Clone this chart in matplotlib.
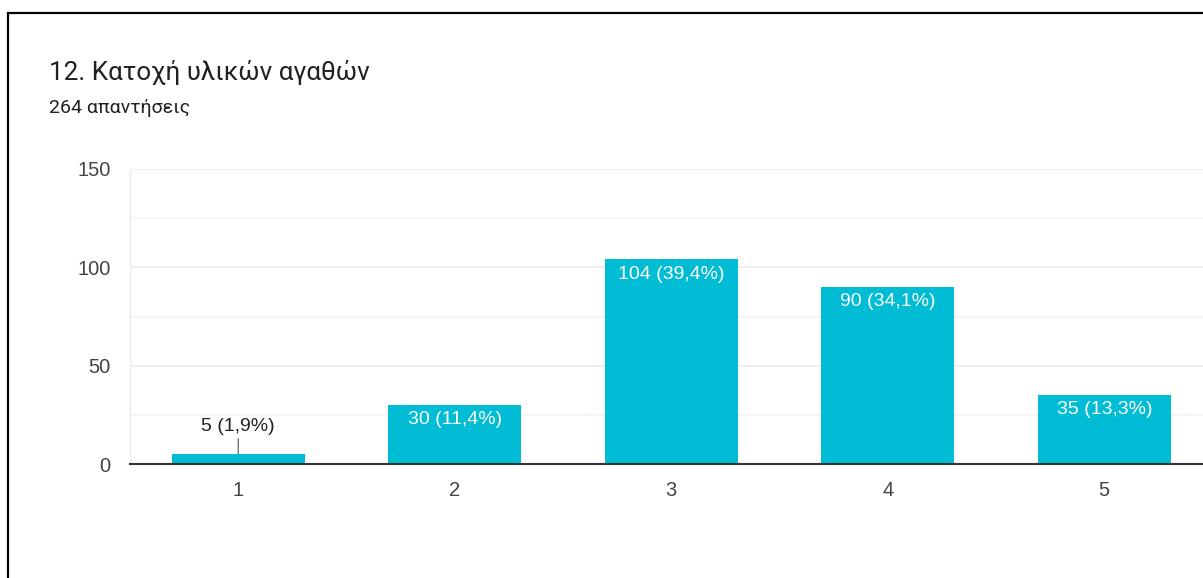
import numpy as np
import matplotlib
matplotlib.use("Agg")
from matplotlib import pyplot as plt
from matplotlib.patches import Rectangle

# %%
# Data
categories = ["1", "2", "3", "4", "5"]
counts = [5, 30, 104, 90, 35]
pct_labels = ["1,9%", "11,4%", "39,4%", "34,1%", "13,3%"]
title = "12. Κατοχή υλικών αγαθών"
subtitle = "264 απαντήσεις"

bar_color = "#00bcd4"
W, H = 1203, 578

# %%
fig = plt.figure(figsize=(W / 100, H / 100), dpi=100)

# outer frame (cut at right/bottom like the screenshot)
frame = Rectangle((8 / W, -0.1), 1.2, 1 - 13 / H + 0.1, transform=fig.transFigure,
                  fill=False, edgecolor="black", linewidth=1.6)
fig.patches.append(frame)

fig.text(49 / W, 1 - 80 / H, title, fontsize=18.7, family="Roboto",
         color="#202124", va="baseline", ha="left")
fig.text(49 / W, 1 - 113 / H, subtitle, fontsize=14, family="Roboto",
         color="#202124", va="baseline", ha="left")

# axes: x from 130 px, category spacing ~216.5 px, y from 169 to 464 px
spacing = 216.5
ax_left, ax_bottom, ax_top = 130, 464, 169
ax = fig.add_axes([ax_left / W, 1 - ax_bottom / H,
                   5 * spacing / W, (ax_bottom - ax_top) / H])

x = np.arange(len(categories))
bars = ax.bar(x, counts, width=0.615, color=bar_color, zorder=3)

ax.set_xlim(-0.5, 4.5)
ax.set_ylim(0, 150)
ax.set_yticks([0, 50, 100, 150])
ax.set_yticks([25, 75, 125], minor=True)
ax.set_xticks(x, categories)
ax.grid(axis="y", which="major", color="#ebebeb", linewidth=1.2, zorder=0)
ax.grid(axis="y", which="minor", color="#f3f3f3", linewidth=1.2, zorder=0)
ax.tick_params(axis="both", which="both", length=0, labelsize=14.5,
               labelcolor="#444444", labelfontfamily="Liberation Sans")
ax.tick_params(axis="y", pad=14)
ax.tick_params(axis="x", pad=12)
for side in ["top", "right"]:
    ax.spines[side].set_visible(False)
ax.spines["left"].set_color("#ebebeb")
ax.spines["bottom"].set_color("#333333")
ax.spines["bottom"].set_linewidth(1.5)
ax.spines["bottom"].set_zorder(4)

# value labels
for xi, c, p in zip(x, counts, pct_labels):
    lab = f"{c} ({p})"
    if c < 15:
        ax.annotate(lab, xy=(xi, c), xytext=(xi, c + 14.3), ha="center", va="center",
                    fontsize=14, family="Liberation Sans", color="#222222",
                    arrowprops=dict(arrowstyle="-", color="#666666", lw=0.9,
                                    shrinkA=1, shrinkB=0))
    else:
        ax.text(xi, c - 7.5, lab, ha="center", va="center", fontsize=14,
                family="Liberation Sans", color="white", zorder=5)

fig.savefig("out.png", dpi=100)
